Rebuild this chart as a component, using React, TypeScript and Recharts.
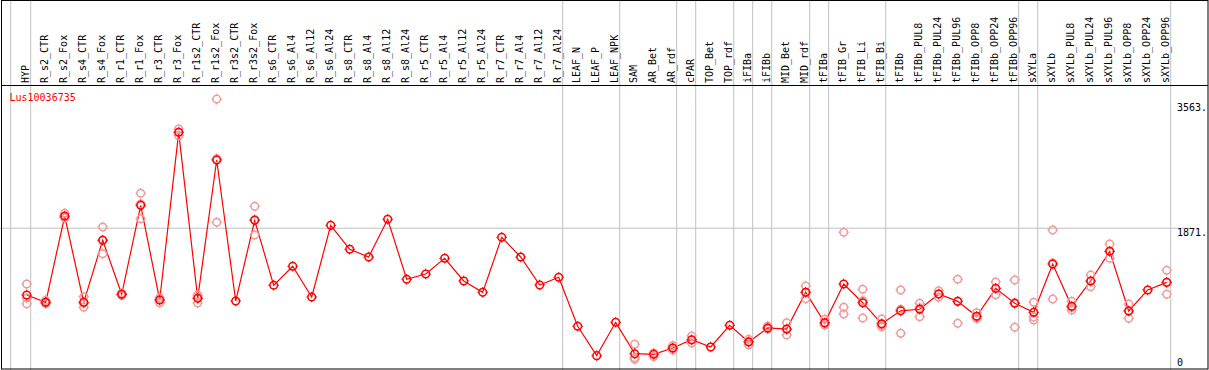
import React from 'react';
import { ComposedChart, Line, XAxis, YAxis, ReferenceLine } from 'recharts';

const geneName = 'Lus10036735';

const categories = [
  'HYP', 'R_s2_CTR', 'R_s2_Fox', 'R_s4_CTR', 'R_s4_Fox', 'R_r1_CTR', 'R_r1_Fox', 'R_r3_CTR', 'R_r3_Fox',
  'R_r1s2_CTR', 'R_r1s2_Fox', 'R_r3s2_CTR', 'R_r3s2_Fox', 'R_s6_CTR', 'R_s6_Al4', 'R_s6_Al12', 'R_s6_Al24',
  'R_s8_CTR', 'R_s8_Al4', 'R_s8_Al12', 'R_s8_Al24', 'R_r5_CTR', 'R_r5_Al4', 'R_r5_Al12', 'R_r5_Al24',
  'R_r7_CTR', 'R_r7_Al4', 'R_r7_Al12', 'R_r7_Al24', 'LEAF_N', 'LEAF_P', 'LEAF_NPK', 'SAM', 'AR_Bet', 'AR_rdf',
  'cPAR', 'TOP_Bet', 'TOP_rdf', 'iFIBa', 'iFIBb', 'MID_Bet', 'MID_rdf', 'tFIBa', 'tFIB_Gr', 'tFIB_Li', 'tFIB_Bi',
  'tFIBb', 'tFIBb_PUL8', 'tFIBb_PUL24', 'tFIBb_PUL96', 'tFIBb_OPP8', 'tFIBb_OPP24', 'tFIBb_OPP96', 'sXYLa',
  'sXYLb', 'sXYLb_PUL8', 'sXYLb_PUL24', 'sXYLb_PUL96', 'sXYLb_OPP8', 'sXYLb_OPP24', 'sXYLb_OPP96',
];

// mean expression per sample
const meanValues = [
  996, 900, 2031, 900, 1713, 1005, 2171, 930, 3128,
  952, 2765, 917, 1975, 1123, 1372, 970, 1909,
  1595, 1494, 1988, 1202, 1271, 1477, 1180, 1031,
  1752, 1494, 1127, 1228, 586, 201, 638, 227, 218, 301,
  410, 315, 599, 380, 564, 550, 1031, 633, 1140, 895, 620,
  788, 809, 1009, 913, 717, 1083, 887, 769,
  1402, 848, 1180, 1569, 786, 1062, 1162,
];

// replicates (null = not shown)
const rep1 = [
  1140, 925, 2067, 974, 1887, 1020, 2329, 935, 3171,
  996, 3563, null, 2158, null, null, null, null,
  null, null, null, null, null, null, null, null,
  null, null, null, null, null, null, null, 350, 230, 332,
  459, null, null, 415, 590, 633, 1114, 677, 1818, 1071, 681,
  1062, 887, 1052, 1202, 764, 1166, 1193, 900,
  1848, 913, 1258, 1664, 878, null, 1320,
];
const rep2 = [
  955, 890, 2020, 890, 1715, 1005, 2190, 960, 3128,
  970, 2783, null, 1985, null, null, null, null,
  null, null, null, null, null, null, null, null,
  null, null, null, null, null, null, null, 175, 235, 300,
  405, null, null, 385, 550, 545, 1031, 620, 835, 920, 600,
  810, 828, 1009, 912, 700, 1083, 895, 708,
  1414, 832, 1177, 1566, 790, null, 1161,
];
const rep3 = [
  880, 885, 2005, 835, 1537, 990, 1996, 895, 3084,
  891, 1949, null, 1782, null, null, null, null,
  null, null, null, null, null, null, null, null,
  null, null, null, null, null, null, null, 155, 188, 275,
  367, null, null, 341, 552, 472, 948, 602, 747, 695, 580,
  494, 712, 966, 625, 686, 1000, 573, 668,
  944, 799, 1105, 1477, 690, null, 1005,
];

// last sample of each group (a grey separator follows it)
const groupEnds = [
  'HYP', 'R_r7_Al24', 'LEAF_NPK', 'AR_rdf', 'cPAR', 'TOP_rdf', 'iFIBa', 'iFIBb',
  'MID_rdf', 'tFIBa', 'tFIB_Bi', 'tFIBb_OPP96', 'sXYLa', 'sXYLb_OPP96',
];

const yTicks = [0, 1871, 3563];

const W = 1209;
const H = 371;
const MONO = "'DejaVu Sans Mono', monospace";
const STEP = 19;
const FIRST_X = 26.7;
const xDomain = [-FIRST_X / STEP, (W - FIRST_X) / STEP];
const yMax = 4862;

const data = categories.map((name, i) => ({
  i,
  name,
  mean: meanValues[i],
  r1: rep1[i],
  r2: rep2[i],
  r3: rep3[i],
}));

function marker(cx: number, cy: number, color: string, key: any) {
  const r = 3.8;
  return (
    <g key={key}>
      <circle cx={cx} cy={cy} r={r} fill="none" stroke={color} strokeWidth={1.5} />
      <line x1={cx} y1={cy - r - 1.5} x2={cx} y2={cy - r + 0.5} stroke={color} strokeWidth={1} />
      <line x1={cx} y1={cy + r - 0.5} x2={cx} y2={cy + r + 1.5} stroke={color} strokeWidth={1} />
      <line x1={cx - r - 1.5} y1={cy} x2={cx - r + 0.5} y2={cy} stroke={color} strokeWidth={1} />
      <line x1={cx + r - 0.5} y1={cy} x2={cx + r + 1.5} y2={cy} stroke={color} strokeWidth={1} />
    </g>
  );
}

const MeanDot = (props: any) => {
  const { cx, cy, index, value } = props;
  if (cx == null || cy == null || value == null) return <g key={`m${index}`} />;
  return marker(cx, cy, '#ff0000', `m${index}`);
};

const RepDot = (props: any) => {
  const { cx, cy, index, value, dataKey } = props;
  if (cx == null || cy == null || value == null) return <g key={`${dataKey}${index}`} />;
  return marker(cx, cy, '#f09a9a', `${dataKey}${index}`);
};

const SampleTick = (props: any) => {
  const { x, payload } = props;
  return (
    <text
      transform={`translate(${x + 2},83) rotate(-90)`}
      fontSize={10}
      fontFamily={MONO}
      fill="#000"
    >
      {categories[payload.value]}
    </text>
  );
};

const ValueTick = (props: any) => {
  const { y, payload } = props;
  const v = payload.value;
  const dy = v === 0 ? -5 : v > 3000 ? 11.5 : 8;
  return (
    <text x={1177} y={y + dy} fontSize={10} fontFamily={MONO} fill="#000">
      {v === 0 ? '0' : `${v}.`}
    </text>
  );
};

export default function App() {
  return (
    <div
      style={{
        position: 'absolute',
        left: 0,
        top: 0,
        width: W,
        height: 370,
        overflow: 'hidden',
        background: '#fff',
      }}
    >
      <ComposedChart width={W} height={H} data={data} margin={{ top: 0, right: 0, bottom: 0, left: 0 }}>
        <XAxis
          type="number"
          dataKey="i"
          orientation="top"
          mirror
          height={30}
          domain={xDomain}
          allowDataOverflow
          ticks={categories.map((_, i) => i)}
          interval={0}
          tick={<SampleTick />}
          axisLine={false}
          tickLine={false}
        />
        <YAxis
          orientation="right"
          mirror
          width={40}
          domain={[0, yMax]}
          allowDataOverflow
          ticks={yTicks}
          interval={0}
          tick={<ValueTick />}
          axisLine={false}
          tickLine={false}
        />
        <ReferenceLine x={-0.842} stroke="#c0c0c0" strokeWidth={1} />
        {groupEnds.map((g) => (
          <ReferenceLine
            key={g}
            x={categories.indexOf(g) + 4 / STEP}
            stroke="#c0c0c0"
            strokeWidth={1}
          />
        ))}
        <ReferenceLine
          segment={[
            { x: xDomain[0], y: yTicks[1] },
            { x: 61.3, y: yTicks[1] },
          ]}
          stroke="#c0c0c0"
          strokeWidth={1}
        />
        <Line dataKey="r1" stroke="none" dot={RepDot} activeDot={false} isAnimationActive={false} />
        <Line dataKey="r2" stroke="none" dot={RepDot} activeDot={false} isAnimationActive={false} />
        <Line dataKey="r3" stroke="none" dot={RepDot} activeDot={false} isAnimationActive={false} />
        <Line
          dataKey="mean"
          stroke="#ff0000"
          strokeWidth={1.2}
          dot={MeanDot}
          activeDot={false}
          isAnimationActive={false}
        />
      </ComposedChart>
      <svg
        width={W}
        height={370}
        style={{ position: 'absolute', left: 0, top: 0, pointerEvents: 'none' }}
      >
        <rect x={1.5} y={0.5} width={1206.5} height={368.5} fill="none" stroke="#000" strokeWidth={1} />
        <line x1={1} y1={85.5} x2={1208} y2={85.5} stroke="#000" strokeWidth={1} />
        <text x={9.5} y={101} fontSize={10} fontFamily={MONO} fill="#ff0000">
          {geneName}
        </text>
      </svg>
    </div>
  );
}
